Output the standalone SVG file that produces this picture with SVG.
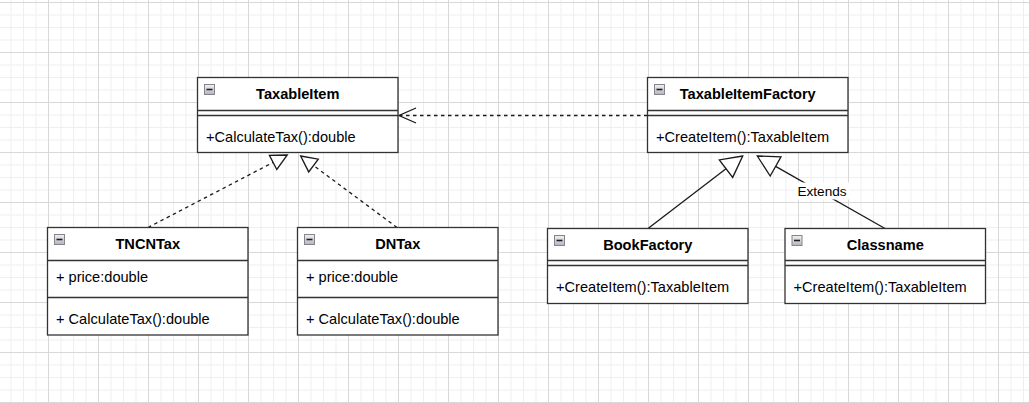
<svg xmlns="http://www.w3.org/2000/svg" width="1029" height="403" viewBox="0 0 1029 403">
  <style>
    .box { fill: #ffffff; stroke: #333333; stroke-width: 1.3; }
    .sep { stroke: #333333; stroke-width: 1.3; fill: none; }
    .title { font-family: "Liberation Sans", Arial, sans-serif; font-size: 14.6px; font-weight: bold; fill: #000000; text-anchor: middle; }
    .member { font-family: "Liberation Sans", Arial, sans-serif; font-size: 14.6px; fill: #000000; }
    .edge { stroke: #1a1a1a; stroke-width: 1.3; fill: none; }
    .dashed { stroke-dasharray: 3.5 3.5; }
    .head { stroke: #1a1a1a; stroke-width: 1.3; fill: #ffffff; stroke-linejoin: miter; }
    .label { font-family: "Liberation Sans", Arial, sans-serif; font-size: 13.6px; fill: #000000; text-anchor: middle; }
    .icon { fill: url(#iconGrad); stroke: #84848f; stroke-width: 1; }
    .iconbar { stroke: #1e1e1e; stroke-width: 1.6; }
  </style>
  <defs>
    <pattern id="grid" patternUnits="userSpaceOnUse" x="23" y="-23" width="50" height="50">
      <rect x="0" y="0" width="1" height="50" fill="#efefef"/>
      <rect x="12.5" y="0" width="1" height="50" fill="#efefef"/>
      <rect x="37.5" y="0" width="1" height="50" fill="#efefef"/>
      <rect x="0" y="0" width="50" height="1" fill="#efefef"/>
      <rect x="0" y="12.5" width="50" height="1" fill="#efefef"/>
      <rect x="0" y="37.5" width="50" height="1" fill="#efefef"/>
      <rect x="25" y="0" width="1" height="50" fill="#d8d8d8"/>
      <rect x="0" y="25" width="50" height="1" fill="#d8d8d8"/>
    </pattern>
    <linearGradient id="iconGrad" x1="0" y1="0" x2="0" y2="1">
      <stop offset="0" stop-color="#f2f2f5"/>
      <stop offset="1" stop-color="#b4b4bd"/>
    </linearGradient>
  </defs>

  <rect x="0" y="0" width="1029" height="403" fill="#ffffff"/>
  <rect x="0" y="0" width="1029" height="403" fill="url(#grid)"/>

  <g id="connectors">
    <!-- TaxableItemFactory -> TaxableItem (dependency) -->
    <g id="edge-factory-taxable">
      <line class="edge dashed" x1="647.5" y1="115.5" x2="399.5" y2="115.5"/>
      <polyline class="edge" points="416,108 399,115.5 416,123"/>
    </g>
    <!-- TNCNTax -> TaxableItem (realization) -->
    <g id="edge-tncn-taxable">
      <line class="edge dashed" x1="148" y1="227.5" x2="273.1" y2="162.4"/>
      <polygon class="head" points="287.3,155 269.4,155.3 276.8,169.5"/>
    </g>
    <!-- DNTax -> TaxableItem (realization) -->
    <g id="edge-dn-taxable">
      <line class="edge dashed" x1="397" y1="227.5" x2="313.5" y2="165.5"/>
      <polygon class="head" points="300.7,156 318.3,159.1 308.7,171.9"/>
    </g>
    <!-- BookFactory -> TaxableItemFactory (generalization) -->
    <g id="edge-book-factory">
      <line class="edge" x1="648" y1="228.5" x2="726" y2="168.7"/>
      <polygon class="head" points="742.7,156 719.3,159.9 732.7,177.4"/>
    </g>
    <!-- Classname -> TaxableItemFactory (generalization, Extends) -->
    <g id="edge-classname-factory">
      <line class="edge" x1="885" y1="228.5" x2="775.6" y2="166.4"/>
      <polygon class="head" points="757.3,156 781,156.8 770.2,176"/>
      <rect x="795" y="182.5" width="54" height="17" fill="#ffffff"/>
      <text class="label" x="822" y="195.7">Extends</text>
    </g>
  </g>

  <g id="TaxableItem">
    <rect class="box" x="197.5" y="77.5" width="200.5" height="75"/>
    <line class="sep" x1="197.5" y1="110.5" x2="398" y2="110.5"/>
    <line class="sep" x1="197.5" y1="115.5" x2="398" y2="115.5"/>
    <rect class="icon" x="204.5" y="84.5" width="10" height="10"/>
    <line class="iconbar" x1="206.5" y1="89.5" x2="212.5" y2="89.5"/>
    <text class="title" x="297.75" y="99">TaxableItem</text>
    <text class="member" x="206" y="142">+CalculateTax():double</text>
  </g>

  <g id="TaxableItemFactory">
    <rect class="box" x="647.5" y="77.5" width="200.5" height="75"/>
    <line class="sep" x1="647.5" y1="110.5" x2="848" y2="110.5"/>
    <line class="sep" x1="647.5" y1="115.5" x2="848" y2="115.5"/>
    <rect class="icon" x="654.5" y="84.5" width="10" height="10"/>
    <line class="iconbar" x1="656.5" y1="89.5" x2="662.5" y2="89.5"/>
    <text class="title" x="747.75" y="99">TaxableItemFactory</text>
    <text class="member" x="656" y="142">+CreateItem():TaxableItem</text>
  </g>

  <g id="TNCNTax">
    <rect class="box" x="47.5" y="227.5" width="200.5" height="107.5"/>
    <line class="sep" x1="47.5" y1="260.5" x2="248" y2="260.5"/>
    <line class="sep" x1="47.5" y1="297.5" x2="248" y2="297.5"/>
    <rect class="icon" x="54.5" y="234.5" width="10" height="10"/>
    <line class="iconbar" x1="56.5" y1="239.5" x2="62.5" y2="239.5"/>
    <text class="title" x="147.75" y="249">TNCNTax</text>
    <text class="member" x="56" y="282">+ price:double</text>
    <text class="member" x="56" y="324">+ CalculateTax():double</text>
  </g>

  <g id="DNTax">
    <rect class="box" x="297.5" y="227.5" width="200.5" height="107.5"/>
    <line class="sep" x1="297.5" y1="260.5" x2="498" y2="260.5"/>
    <line class="sep" x1="297.5" y1="297.5" x2="498" y2="297.5"/>
    <rect class="icon" x="304.5" y="234.5" width="10" height="10"/>
    <line class="iconbar" x1="306.5" y1="239.5" x2="312.5" y2="239.5"/>
    <text class="title" x="397.75" y="249">DNTax</text>
    <text class="member" x="306" y="282">+ price:double</text>
    <text class="member" x="306" y="324">+ CalculateTax():double</text>
  </g>

  <g id="BookFactory">
    <rect class="box" x="547.5" y="228.5" width="200.5" height="75"/>
    <line class="sep" x1="547.5" y1="260.5" x2="748" y2="260.5"/>
    <line class="sep" x1="547.5" y1="265.5" x2="748" y2="265.5"/>
    <rect class="icon" x="554.5" y="235.5" width="10" height="10"/>
    <line class="iconbar" x1="556.5" y1="240.5" x2="562.5" y2="240.5"/>
    <text class="title" x="647.75" y="250">BookFactory</text>
    <text class="member" x="556" y="292">+CreateItem():TaxableItem</text>
  </g>

  <g id="Classname">
    <rect class="box" x="785" y="228.5" width="200.5" height="75"/>
    <line class="sep" x1="785" y1="260.5" x2="985.5" y2="260.5"/>
    <line class="sep" x1="785" y1="265.5" x2="985.5" y2="265.5"/>
    <rect class="icon" x="792" y="235.5" width="10" height="10"/>
    <line class="iconbar" x1="794" y1="240.5" x2="800" y2="240.5"/>
    <text class="title" x="885.25" y="250">Classname</text>
    <text class="member" x="793.5" y="292">+CreateItem():TaxableItem</text>
  </g>
</svg>
